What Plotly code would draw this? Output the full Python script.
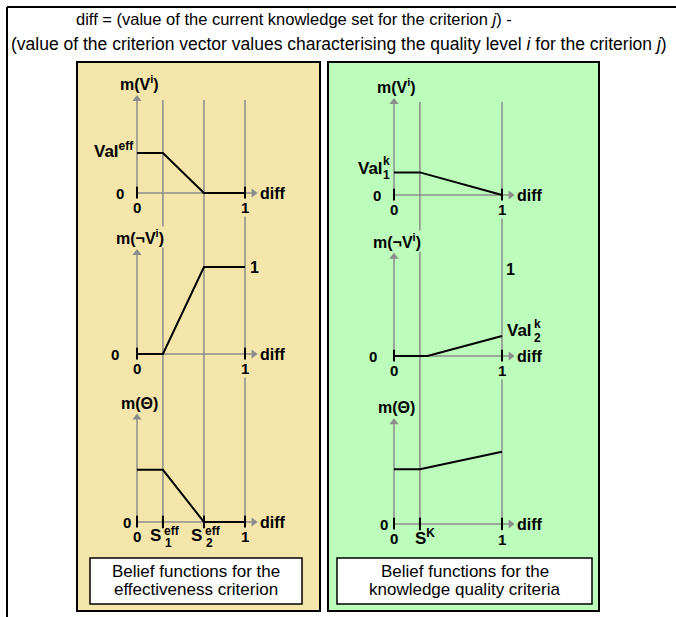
import plotly.graph_objects as go

# effectiveness criterion (left panel)
EFF_DIFF = [0, 0.24, 0.62, 1]
EFF_M_V = [0.46, 0.46, 0, 0]
EFF_M_NOTV = [0, 0, 1, 1]
EFF_M_THETA = [0.6, 0.6, 0, 0]
EFF_S1 = 0.24
EFF_S2 = 0.62

# knowledge quality criteria (right panel)
K_DIFF_V = [0, 0.24, 1]
K_M_V = [0.26, 0.26, 0]
K_DIFF_NOTV = [0, 0.31, 1]
K_M_NOTV = [0, 0, 0.23]
K_DIFF_THETA = [0, 0.24, 1]
K_M_THETA = [0.63, 0.63, 0.83]
K_S = 0.24

HEADER_1 = "diff = (value of the current knowledge set for the criterion <i>j</i>) -"
HEADER_2 = ("(value of the criterion vector values characterising the quality "
            "level <i>i</i> for the criterion <i>j</i>)")
CAPTION_EFF = ["Belief functions for the", "effectiveness criterion"]
CAPTION_K = ["Belief functions for the", "knowledge quality criteria"]

W, H = 676, 617
FONT = "Arial, Liberation Sans, sans-serif"
GREY = "#8c8c8c"
YELLOW = "#f4e6ab"
GREEN = "#bcfdbc"
XR = [-0.3, 1.3]
YR = [-0.25, 1.35]


def px(x):
    return x / W


def py(y):
    return 1 - y / H


fig = go.Figure()
annotations = []
shapes = []

# subplot placement: (x origin px, y origin px, px per unit x, px per unit y, y arrow tip)
PLOTS = [
    (137, 193, 108, 87, 1.08),
    (137, 354, 108, 87, 1.16),
    (137, 522, 108, 87, 1.20),
    (394, 195, 108, 87, 1.07),
    (394, 356, 108, 87, 1.14),
    (394, 524, 108, 87, 1.17),
]
X_TIP = 1.08


def refs(i):
    return ("x" if i == 1 else f"x{i}"), ("y" if i == 1 else f"y{i}")


for i, (x0, y0, sx, sy, _) in enumerate(PLOTS, start=1):
    xa, ya = refs(i)
    fig.update_layout(**{
        ("xaxis" if i == 1 else f"xaxis{i}"): dict(
            domain=[px(x0 + XR[0] * sx), px(x0 + XR[1] * sx)], range=XR,
            anchor=ya, visible=False, fixedrange=True),
        ("yaxis" if i == 1 else f"yaxis{i}"): dict(
            domain=[py(y0 - YR[0] * sy), py(y0 - YR[1] * sy)], range=YR,
            anchor=xa, visible=False, fixedrange=True),
    })


def label(i, text, x, y, xanchor="center", yanchor="middle", xshift=0, yshift=0,
          size=15, bold=True, bg=None):
    xa, ya = refs(i)
    annotations.append(dict(
        text=f"<b>{text}</b>" if bold else text, x=x, y=y, xref=xa, yref=ya,
        xanchor=xanchor, yanchor=yanchor, xshift=xshift, yshift=yshift,
        showarrow=False, font=dict(family=FONT, size=size, color="black"),
        bgcolor=bg, borderpad=0))


def axes(i, ytip, ylabel, ticks, bg):
    xa, ya = refs(i)
    # grey axis lines with arrow heads
    fig.add_trace(go.Scatter(
        x=[0, 0, None, 0, X_TIP], y=[ytip, 0, None, 0, 0], xaxis=xa, yaxis=ya,
        mode="lines", line=dict(color=GREY, width=1.5), cliponaxis=False,
        hoverinfo="skip", showlegend=False))
    fig.add_trace(go.Scatter(
        x=[0, X_TIP], y=[ytip, 0], xaxis=xa, yaxis=ya, mode="markers",
        marker=dict(symbol=["triangle-up", "triangle-right"], size=8, color=GREY),
        cliponaxis=False, hoverinfo="skip", showlegend=False))
    fig.add_trace(go.Scatter(
        x=ticks, y=[0] * len(ticks), xaxis=xa, yaxis=ya, mode="markers",
        marker=dict(symbol="line-ns", size=9, line=dict(width=2, color="black")),
        cliponaxis=False, hoverinfo="skip", showlegend=False))
    label(i, ylabel, 0, ytip, yanchor="bottom", xshift=3, yshift=5, size=16, bg=bg)
    label(i, "diff", X_TIP, 0, xanchor="left", xshift=5, size=16)


def curve(i, x, y):
    xa, ya = refs(i)
    fig.add_trace(go.Scatter(
        x=x, y=y, xaxis=xa, yaxis=ya, mode="lines",
        line=dict(color="black", width=2), cliponaxis=False,
        hoverinfo="skip", showlegend=False))


# panels
shapes.append(dict(type="rect", xref="paper", yref="paper", x0=px(77), x1=px(320),
                   y0=py(611), y1=py(62), fillcolor=YELLOW,
                   line=dict(color="black", width=2), layer="below"))
shapes.append(dict(type="rect", xref="paper", yref="paper", x0=px(328), x1=px(599),
                   y0=py(611), y1=py(62), fillcolor=GREEN,
                   line=dict(color="black", width=2), layer="below"))

# vertical guide lines across the three plots of each panel
for xv in [EFF_S1, EFF_S2, 1]:
    shapes.append(dict(type="line", xref="x", yref="paper", x0=xv, x1=xv,
                       y0=py(522), y1=py(100), line=dict(color=GREY, width=1.5),
                       layer="below"))
for xv in [K_S, 1]:
    shapes.append(dict(type="line", xref="x4", yref="paper", x0=xv, x1=xv,
                       y0=py(524), y1=py(102), line=dict(color=GREY, width=1.5),
                       layer="below"))

# left panel
axes(1, PLOTS[0][4], "m(V<sup>i</sup>)", [0, 1], YELLOW)
curve(1, EFF_DIFF, EFF_M_V)
label(1, "Val<sup>eff</sup>", 0, EFF_M_V[0], xanchor="right", xshift=-3, yshift=3,
      size=17, bg=YELLOW)
label(1, "0", 0, 0, xanchor="right", xshift=-12, bg=YELLOW)
label(1, "0", 0, 0, yshift=-14, bg=YELLOW)
label(1, "1", 1, 0, yshift=-14, bg=YELLOW)

axes(2, PLOTS[1][4], "m(¬V<sup>i</sup>)", [0, 1], YELLOW)
curve(2, EFF_DIFF, EFF_M_NOTV)
label(2, "1", 1, EFF_M_NOTV[-1], xanchor="left", xshift=4, size=16, bg=YELLOW)
label(2, "0", 0, 0, xanchor="right", xshift=-17, bg=YELLOW)
label(2, "0", 0, 0, yshift=-14, bg=YELLOW)
label(2, "1", 1, 0, yshift=-14, bg=YELLOW)

axes(3, PLOTS[2][4], "m(Θ)", [0, EFF_S1, EFF_S2, 1], YELLOW)
curve(3, EFF_DIFF, EFF_M_THETA)
label(3, "0", 0, 0, xanchor="right", xshift=-5, bg=YELLOW)
label(3, "0", 0, 0, yshift=-14, bg=YELLOW)
label(3, "1", 1, 0, yshift=-14, bg=YELLOW)
for s, sub in [(EFF_S1, "1"), (EFF_S2, "2")]:
    label(3, "S", s, 0, xanchor="right", xshift=-1, yshift=-13, size=17)
    label(3, "eff", s, 0, xanchor="left", xshift=0, yshift=-9, size=12)
    label(3, sub, s, 0, xanchor="left", xshift=1, yshift=-21, size=12)

# right panel
axes(4, PLOTS[3][4], "m(V<sup>i</sup>)", [0, 1], GREEN)
curve(4, K_DIFF_V, K_M_V)
label(4, "Val", 0, K_M_V[0], xanchor="right", xshift=-10, yshift=4, size=17)
label(4, "k", 0, K_M_V[0], xanchor="left", xshift=-12, yshift=11, size=12)
label(4, "1", 0, K_M_V[0], xanchor="left", xshift=-12, yshift=-3, size=12)
label(4, "0", 0, 0, xanchor="right", xshift=-12, bg=GREEN)
label(4, "0", 0, 0, yshift=-14, bg=GREEN)
label(4, "1", 1, 0, yshift=-14, bg=GREEN)

axes(5, PLOTS[4][4], "m(¬V<sup>i</sup>)", [0, 1], GREEN)
curve(5, K_DIFF_NOTV, K_M_NOTV)
label(5, "1", 1, 1, xanchor="left", xshift=3, size=16)
label(5, "Val", 1, K_M_NOTV[-1], xanchor="left", xshift=4, yshift=5, size=17)
label(5, "k", 1, K_M_NOTV[-1], xanchor="left", xshift=31, yshift=12, size=12)
label(5, "2", 1, K_M_NOTV[-1], xanchor="left", xshift=31, yshift=-2, size=12)
label(5, "0", 0, 0, xanchor="right", xshift=-16, bg=GREEN)
label(5, "0", 0, 0, yshift=-14, bg=GREEN)
label(5, "1", 1, 0, yshift=-14, bg=GREEN)

axes(6, PLOTS[5][4], "m(Θ)", [0, K_S, 1], GREEN)
curve(6, K_DIFF_THETA, K_M_THETA)
label(6, "0", 0, 0, xanchor="right", xshift=-5, bg=GREEN)
label(6, "0", 0, 0, yshift=-14, bg=GREEN)
label(6, "1", 1, 0, yshift=-15, bg=GREEN)
label(6, "S<sup>K</sup>", K_S, 0, xshift=5, yshift=-13, size=17)

# caption boxes
for (bx0, bx1), lines in [((90, 302), CAPTION_EFF), ((337, 592), CAPTION_K)]:
    shapes.append(dict(type="rect", xref="paper", yref="paper", x0=px(bx0), x1=px(bx1),
                       y0=py(604), y1=py(558), fillcolor="white",
                       line=dict(color="black", width=1.5)))
    for k, line in enumerate(lines):
        annotations.append(dict(
            text=line, x=px((bx0 + bx1) / 2), y=py(571 + 18 * k), xref="paper",
            yref="paper", xanchor="center", yanchor="middle", showarrow=False,
            font=dict(family=FONT, size=17, color="black")))

# header and outer frame
annotations.append(dict(text=HEADER_1, x=px(74), y=py(19), xref="paper", yref="paper",
                        xanchor="left", yanchor="middle", showarrow=False,
                        font=dict(family=FONT, size=16.5, color="black")))
annotations.append(dict(text=HEADER_2, x=px(9), y=py(44), xref="paper", yref="paper",
                        xanchor="left", yanchor="middle", showarrow=False,
                        font=dict(family=FONT, size=17.5, color="black")))
shapes.append(dict(type="line", xref="paper", yref="paper", x0=px(7), x1=1,
                   y0=py(7), y1=py(7), line=dict(color="black", width=2)))
shapes.append(dict(type="line", xref="paper", yref="paper", x0=px(7), x1=px(7),
                   y0=0, y1=py(7), line=dict(color="black", width=2)))

fig.update_layout(
    width=W, height=H,
    margin=dict(l=0, r=0, t=0, b=0),
    paper_bgcolor="white",
    plot_bgcolor="rgba(0,0,0,0)",
    showlegend=False,
    annotations=annotations,
    shapes=shapes,
)

fig.write_html("out.html", config={"displayModeBar": False},
               post_script="document.body.style.margin='0';"
                           "document.body.style.overflow='hidden';")
